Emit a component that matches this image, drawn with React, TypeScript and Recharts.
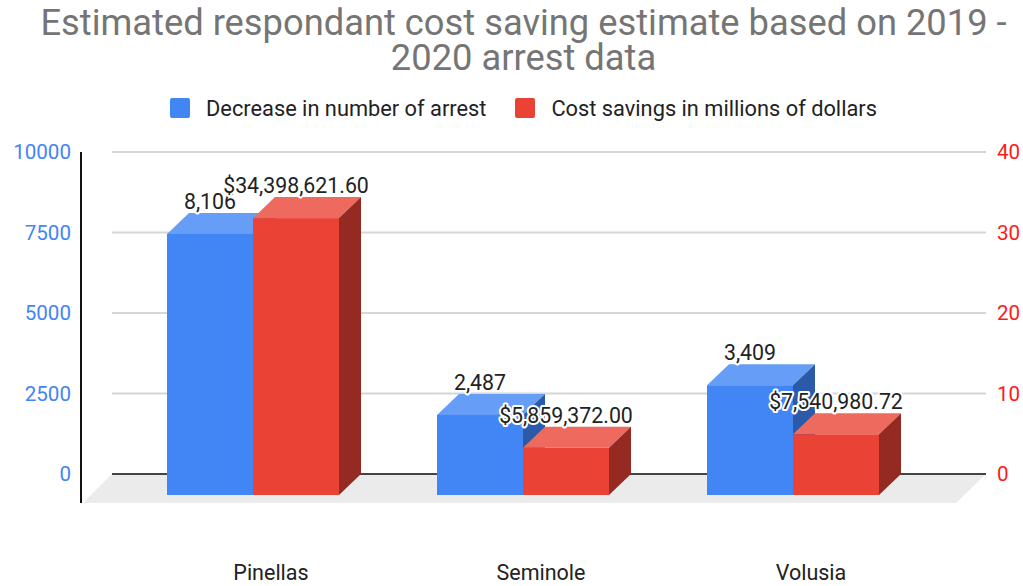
import React from 'react';
import { BarChart, Bar, XAxis, YAxis, CartesianGrid, ReferenceLine, Legend, LabelList } from 'recharts';

const categories = ['Pinellas', 'Seminole', 'Volusia'];
const arrestDecrease = [8106, 2487, 3409];
const costSavingsMillions = [34.3986216, 5.859372, 7.54098072];
const leftTicks = [0, 2500, 5000, 7500, 10000];
const rightTicks = [0, 10, 20, 30, 40];
const seriesNames = ['Decrease in number of arrest', 'Cost savings in millions of dollars'];
const titleLines = ['Estimated respondant cost saving estimate based on 2019 -', '2020 arrest data'];

const data = categories.map((name, i) => ({
  name,
  arrests: arrestDecrease[i],
  savings: costSavingsMillions[i],
}));

const W = 1023;
const H = 586;
const PLOT_TOP = 152;
const PLOT_LEFT = 112;
const PLOT_RIGHT = 986;
const PLOT_BOTTOM = 474;
const DX = 22;
const DY = 21;
const FLOOR_DX = 30;
const FLOOR_DY = 29;
const HEADER_SHIFT = 12;
const FONT = 'Roboto, "Noto Sans", Arial, sans-serif';

const BLUE = { front: '#4285F4', top: '#669df6', side: '#2a5aa8' };
const RED = { front: '#EA4335', top: '#ee6a5f', side: '#952a23' };

const makeBar3D = (c: { front: string; top: string; side: string }) => (props: any) => {
  const { x, y, width: w, height: h } = props;
  if (x == null || w == null || h == null) return null;
  const fx = x - DX;
  const fy = y + DY;
  return (
    <g>
      <polygon points={`${fx},${fy} ${x},${y} ${x + w},${y} ${fx + w},${fy}`} fill={c.top} />
      <polygon points={`${fx + w},${fy} ${x + w},${y} ${x + w},${y + h} ${fx + w},${fy + h}`} fill={c.side} />
      <rect x={fx} y={fy} width={w} height={h} fill={c.front} />
    </g>
  );
};

const fmtArrests = (v: number) => Number(v).toLocaleString('en-US');
const fmtSavings = (v: number) =>
  '$' + (Number(v) * 1e6).toLocaleString('en-US', { minimumFractionDigits: 2, maximumFractionDigits: 2 });

const makeLabel = (fmt: (v: number) => string) => (props: any) => {
  const vb = props.viewBox || {};
  const x = props.x ?? vb.x;
  const y = props.y ?? vb.y;
  const width = props.width ?? vb.width;
  if (x == null || y == null) return null;
  return (
    <text
      x={x - DX + width / 2}
      y={y - 4}
      textAnchor="middle"
      fontSize={21.3}
      fontFamily={FONT}
      fill="#222222"
      stroke="#ffffff"
      strokeWidth={4}
      strokeLinejoin="round"
      paintOrder="stroke"
    >
      {fmt(props.value)}
    </text>
  );
};

const LeftTick = (props: any) => {
  const { y, payload } = props;
  return (
    <text x={71} y={y} dy="0.35em" textAnchor="end" fontSize={20.6} fontFamily={FONT} fill="#4285F4">
      {payload.value}
    </text>
  );
};

const RightTick = (props: any) => {
  const { y, payload } = props;
  return (
    <text x={997} y={y} dy="0.35em" textAnchor="start" fontSize={20.6} fontFamily={FONT} fill="#ff1a1a">
      {payload.value}
    </text>
  );
};

const BottomTick = (props: any) => {
  const { x, payload } = props;
  return (
    <text x={x - 4} y={580} textAnchor="middle" fontSize={21.5} fontFamily={FONT} fill="#222222">
      {payload.value}
    </text>
  );
};

const FloorShape = (props: any) => {
  const { x1, x2, y1 } = props;
  if (x1 == null) return null;
  const y = y1;
  return (
    <g>
      <polygon
        points={`${x1},${y} ${x2},${y} ${x2 - FLOOR_DX},${y + FLOOR_DY} ${x1 - FLOOR_DX + 1},${y + FLOOR_DY}`}
        fill="#ebebeb"
      />
      <line x1={x1} y1={y} x2={x2} y2={y} stroke="#444444" strokeWidth={2} />
      <line x1={x1 - FLOOR_DX - 1} y1={PLOT_TOP} x2={x1 - FLOOR_DX - 1} y2={y + FLOOR_DY} stroke="#111111" strokeWidth={2} />
    </g>
  );
};

const legendColors = [BLUE.front, RED.front];

const LegendContent = () => (
  <div
    style={{
      display: 'flex',
      justifyContent: 'center',
      alignItems: 'center',
      fontFamily: FONT,
      fontSize: 21.8,
      color: '#222222',
      height: 24,
      paddingLeft: HEADER_SHIFT * 2,
    }}
  >
    {seriesNames.map((n, i) => (
      <div key={n} style={{ display: 'flex', alignItems: 'center', marginLeft: i === 0 ? 0 : 29 }}>
        <span
          style={{
            display: 'inline-block',
            width: 20,
            height: 20,
            borderRadius: 2,
            background: legendColors[i],
            marginRight: 16,
          }}
        />
        <span>{n}</span>
      </div>
    ))}
  </div>
);

export default function App() {
  return (
    <div style={{ position: 'absolute', left: 0, top: 0, width: W, height: H, background: '#ffffff', fontFamily: FONT }}>
      <div
        style={{
          position: 'absolute',
          left: HEADER_SHIFT,
          top: 5,
          width: W - HEADER_SHIFT,
          textAlign: 'center',
          fontSize: 36.3,
          lineHeight: '35px',
          color: '#757575',
          fontFamily: FONT,
          paddingLeft: HEADER_SHIFT,
          boxSizing: 'border-box',
        }}
      >
        {titleLines.map((t) => (
          <div key={t} style={{ whiteSpace: 'nowrap' }}>{t}</div>
        ))}
      </div>
      <BarChart
        width={W}
        height={H}
        data={data}
        margin={{ top: PLOT_TOP, right: 0, left: 0, bottom: 0 }}
        barGap={0}
        barSize={86}
      >
        <CartesianGrid vertical={false} stroke="#d6d6d6" strokeWidth={2} yAxisId="left" />
        <ReferenceLine y={0} yAxisId="left" shape={FloorShape} zIndex={-50} ifOverflow="visible" />
        <XAxis
          dataKey="name"
          height={H - PLOT_BOTTOM}
          padding={{ left: 28, right: 36 }}
          axisLine={false}
          tickLine={false}
          tick={<BottomTick />}
          interval={0}
        />
        <YAxis
          yAxisId="left"
          orientation="left"
          width={PLOT_LEFT}
          domain={[0, 10000]}
          ticks={leftTicks}
          axisLine={false}
          tickLine={false}
          tick={<LeftTick />}
        />
        <YAxis
          yAxisId="right"
          orientation="right"
          width={W - PLOT_RIGHT}
          domain={[0, 40]}
          ticks={rightTicks}
          axisLine={false}
          tickLine={false}
          tick={<RightTick />}
        />
        <Legend
          layout="horizontal"
          verticalAlign="middle"
          align="center"
          wrapperStyle={{ top: 96, left: 0, width: W }}
          content={<LegendContent />}
        />
        <Bar
          dataKey="arrests"
          yAxisId="left"
          name={seriesNames[0]}
          fill={BLUE.front}
          shape={makeBar3D(BLUE)}
          isAnimationActive={false}
        >
          <LabelList dataKey="arrests" content={makeLabel(fmtArrests)} />
        </Bar>
        <Bar
          dataKey="savings"
          yAxisId="right"
          name={seriesNames[1]}
          fill={RED.front}
          shape={makeBar3D(RED)}
          isAnimationActive={false}
        >
          <LabelList dataKey="savings" content={makeLabel(fmtSavings)} />
        </Bar>
      </BarChart>
    </div>
  );
}
